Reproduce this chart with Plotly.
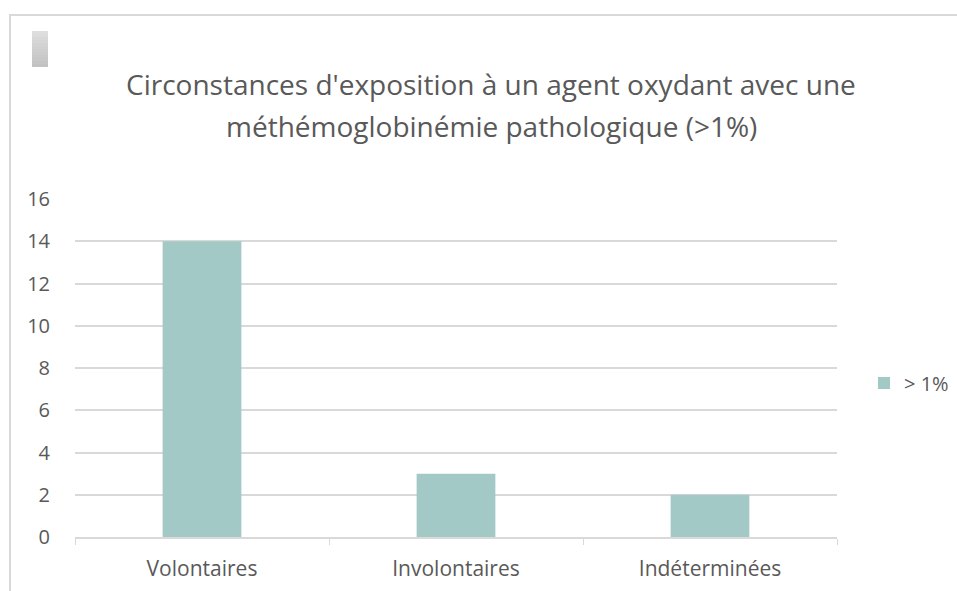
import plotly.graph_objects as go

categories = ["Volontaires", "Involontaires", "Indéterminées"]
values = [14, 3, 2]
series_name = "> 1%"
y_ticks = [0, 2, 4, 6, 8, 10, 12, 14, 16]
title_line1 = "Circonstances d'exposition à un agent oxydant avec une"
title_line2 = "méthémoglobinémie pathologique (>1%)"

W, H = 957, 591
L, R, T, B = 75, 120, 199, 54
FONT = "Open Sans"
GRAY = "#595959"

fig = go.Figure()
fig.add_trace(go.Bar(x=categories, y=values, name=series_name,
                     marker=dict(color="#A2C9C6", line=dict(width=0)),
                     showlegend=True))

def px(x):
    return (x - L) / (W - L - R)

def py(y):
    return (H - B - y) / (H - T - B)

shapes = []
# outer border lines (top and left)
shapes.append(dict(type="line", xref="paper", yref="paper",
                   x0=px(9), x1=px(957), y0=py(15), y1=py(15),
                   line=dict(color="#D9D9D9", width=2)))
shapes.append(dict(type="line", xref="paper", yref="paper",
                   x0=px(10), x1=px(10), y0=py(15), y1=py(591),
                   line=dict(color="#D9D9D9", width=2)))
# small gradient box top-left
n = 12
for i in range(n):
    y0 = 31 + i * 36 / n
    y1 = 31 + (i + 1) * 36 / n
    c = int(222 - i * 28 / (n - 1))
    shapes.append(dict(type="rect", xref="paper", yref="paper",
                       x0=px(32), x1=px(48), y0=py(y1), y1=py(y0),
                       fillcolor=f"rgb({c},{c},{c})", line=dict(width=0)))

annotations = [
    dict(text=title_line1, xref="paper", yref="paper",
         x=px(491), y=py(84), xanchor="center", yanchor="middle",
         showarrow=False, font=dict(family=FONT, size=28, color=GRAY)),
    dict(text=title_line2, xref="paper", yref="paper",
         x=px(491), y=py(126), xanchor="center", yanchor="middle",
         showarrow=False, font=dict(family=FONT, size=28, color=GRAY)),
]

fig.update_layout(
    width=W, height=H,
    margin=dict(l=L, r=R, t=T, b=B, autoexpand=False),
    paper_bgcolor="white", plot_bgcolor="white",
    bargap=0.69,
    shapes=shapes,
    annotations=annotations,
    font=dict(family=FONT, color=GRAY, size=20),
    legend=dict(x=px(864), y=py(383), xanchor="left", yanchor="middle",
                font=dict(family=FONT, size=20, color=GRAY),
                itemwidth=30, bgcolor="rgba(0,0,0,0)"),
    xaxis=dict(showline=True, linecolor="#D9D9D9", linewidth=1.5,
               ticks="outside", tickson="boundaries", ticklen=6,
               tickcolor="#D9D9D9", showgrid=False, ticklabelstandoff=12,
               automargin=False,
               tickfont=dict(family=FONT, size=21, color=GRAY)),
    yaxis=dict(range=[0, 16], tickvals=y_ticks, showgrid=True,
               gridcolor="#D9D9D9", gridwidth=1.5, zeroline=False,
               showline=False, ticks="", ticklabelstandoff=24,
               automargin=False,
               tickfont=dict(family=FONT, size=20, color=GRAY)),
)

fig.write_html("out.html", config={"displayModeBar": False},
               post_script="document.body.style.margin='0';document.body.style.overflow='hidden';")
